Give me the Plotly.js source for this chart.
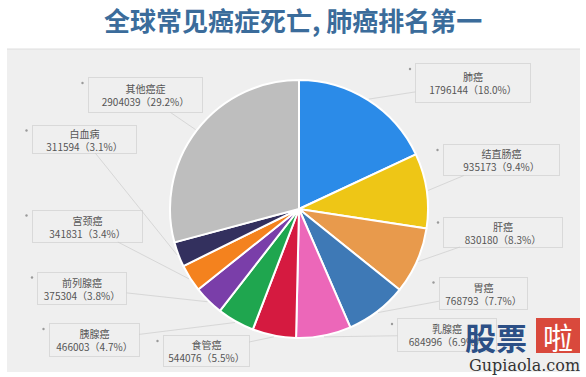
<!DOCTYPE html>
<html>
<head>
<meta charset="utf-8">
<script src="https://cdn.plot.ly/plotly-3.0.1.min.js"></script>
<style>
html,body{margin:0;padding:0;background:#fff;}
#chart{width:586px;height:377px;}
</style>
</head>
<body>
<div id="chart"></div>
<script>
// ---- data ----
const categories = ['肺癌','结直肠癌','肝癌','胃癌','乳腺癌','食管癌','胰腺癌','前列腺癌','宫颈癌','白血病','其他癌症'];
const deaths = [1796144, 935173, 830180, 768793, 684996, 544076, 466003, 375304, 341831, 311594, 2904039];
const titleText = '全球常见癌症死亡, 肺癌排名第一';

// ---- styles / layout ----
const colors = ['#2b8be8','#eec616','#e89a4c','#3e79b6','#ec67b9','#d51a40','#1fa64f','#7a3ea9','#f4821e','#33305e','#bebebe'];
const W = 586, H = 377;
const cx = 299, cy = 209, R = 129;
// label boxes: [centerX, centerY, width, height] in pixels
const boxes = [
  [473, 83, 116, 40],
  [501, 160, 117, 32],
  [503, 232, 120, 31],
  [483, 293, 89, 33],
  [447, 335, 100, 34],
  [206, 351, 87, 32],
  [94, 340, 91, 34],
  [82, 288, 90, 33],
  [87, 226, 111, 33],
  [84, 139, 105, 29],
  [145, 95, 115, 36]
];

const total = deaths.reduce((a,b)=>a+b,0);

const pie = {
  type: 'pie',
  labels: categories,
  values: deaths,
  sort: false,
  direction: 'clockwise',
  rotation: 0,
  textinfo: 'none',
  hoverinfo: 'label+value+percent',
  marker: {colors: colors, line: {color: '#ffffff', width: 2}},
  showlegend: false,
  domain: {x: [(cx - R) / W, (cx + R) / W], y: [1 - (cy + R) / H, 1 - (cy - R) / H]}
};

const annotations = [];
const shapes = [
  {type: 'rect', xref: 'x', yref: 'y', x0: 7, x1: 580, y0: 49, y1: 372, fillcolor: '#efefef', line: {width: 0}, layer: 'below'},
  {type: 'line', xref: 'x', yref: 'y', x0: 7, x1: 580, y0: 49, y1: 49, line: {color: '#dedede', width: 1}, layer: 'below'}
];
let cum = 0;
categories.forEach((name, i) => {
  const mid = (cum + deaths[i] / 2) / total * 2 * Math.PI;
  cum += deaths[i];
  const tx = cx + R * 1.01 * Math.sin(mid);
  const ty = cy - R * 1.01 * Math.cos(mid);
  const b = boxes[i];
  const pct = (deaths[i] / total * 100).toFixed(1);
  annotations.push({
    xref: 'x', yref: 'y', axref: 'x', ayref: 'y',
    x: tx, y: ty, ax: b[0], ay: b[1],
    showarrow: true, arrowhead: 0, arrowwidth: 1, arrowcolor: 'rgba(205,205,205,0.7)',
    text: name + '<br>' + deaths[i] + '（' + pct + '%）',
    font: {family: 'Noto Sans CJK SC, sans-serif', size: 10, color: '#555555'},
    align: 'center', bgcolor: '#efefef', bordercolor: '#d9d9d9', borderwidth: 1, borderpad: 0,
    width: b[2] - 2, height: b[3] - 2, valign: 'middle'
  });
  const dx = b[0] - b[2] / 2 - 5, dy = b[1] - b[3] / 2 + 6;
  shapes.push({type: 'circle', xref: 'x', yref: 'y', x0: dx - 1.2, x1: dx + 1.2, y0: dy - 1.2, y1: dy + 1.2,
    fillcolor: '#9a9a9a', line: {width: 0}, layer: 'above'});
});

// title
annotations.push({
  xref: 'x', yref: 'y', x: 293, y: 19, showarrow: false,
  text: '<b>' + titleText + '</b>',
  font: {family: 'Noto Sans CJK SC, sans-serif', size: 26, color: '#3b6c9b'}
});
// watermark
annotations.push({xref:'x', yref:'y', x: 496, y: 336, showarrow:false,
  text:'<b>股票</b>', font:{family:'Noto Sans CJK SC, sans-serif', size:31, color:'#2c4f86'}});
shapes.push({type:'rect', xref:'x', yref:'y', x0: 536, x1: 580, y0: 318, y1: 353, fillcolor:'#d9493c', line:{width:0}, layer:'above'});
annotations.push({xref:'x', yref:'y', x: 558, y: 336, showarrow:false,
  text:'啦', font:{family:'Noto Sans CJK SC, sans-serif', size:30, color:'#ffffff'}});
annotations.push({xref:'x', yref:'y', x: 524, y: 365, showarrow:false,
  text:'Gupiaola.com', font:{family:'DejaVu Serif, serif', size:16, color:'#333333'}});

const layout = {
  width: W, height: H,
  margin: {l: 0, r: 0, t: 0, b: 0},
  paper_bgcolor: '#ffffff', plot_bgcolor: 'rgba(0,0,0,0)',
  xaxis: {range: [0, W], visible: false, fixedrange: true, domain: [0, 1]},
  yaxis: {range: [H, 0], visible: false, fixedrange: true, domain: [0, 1]},
  shapes: shapes,
  annotations: annotations
};

Plotly.newPlot('chart', [pie, {type:'scatter', x:[], y:[], showlegend:false}], layout, {displayModeBar: false, staticPlot: true});
</script>
</body>
</html>
